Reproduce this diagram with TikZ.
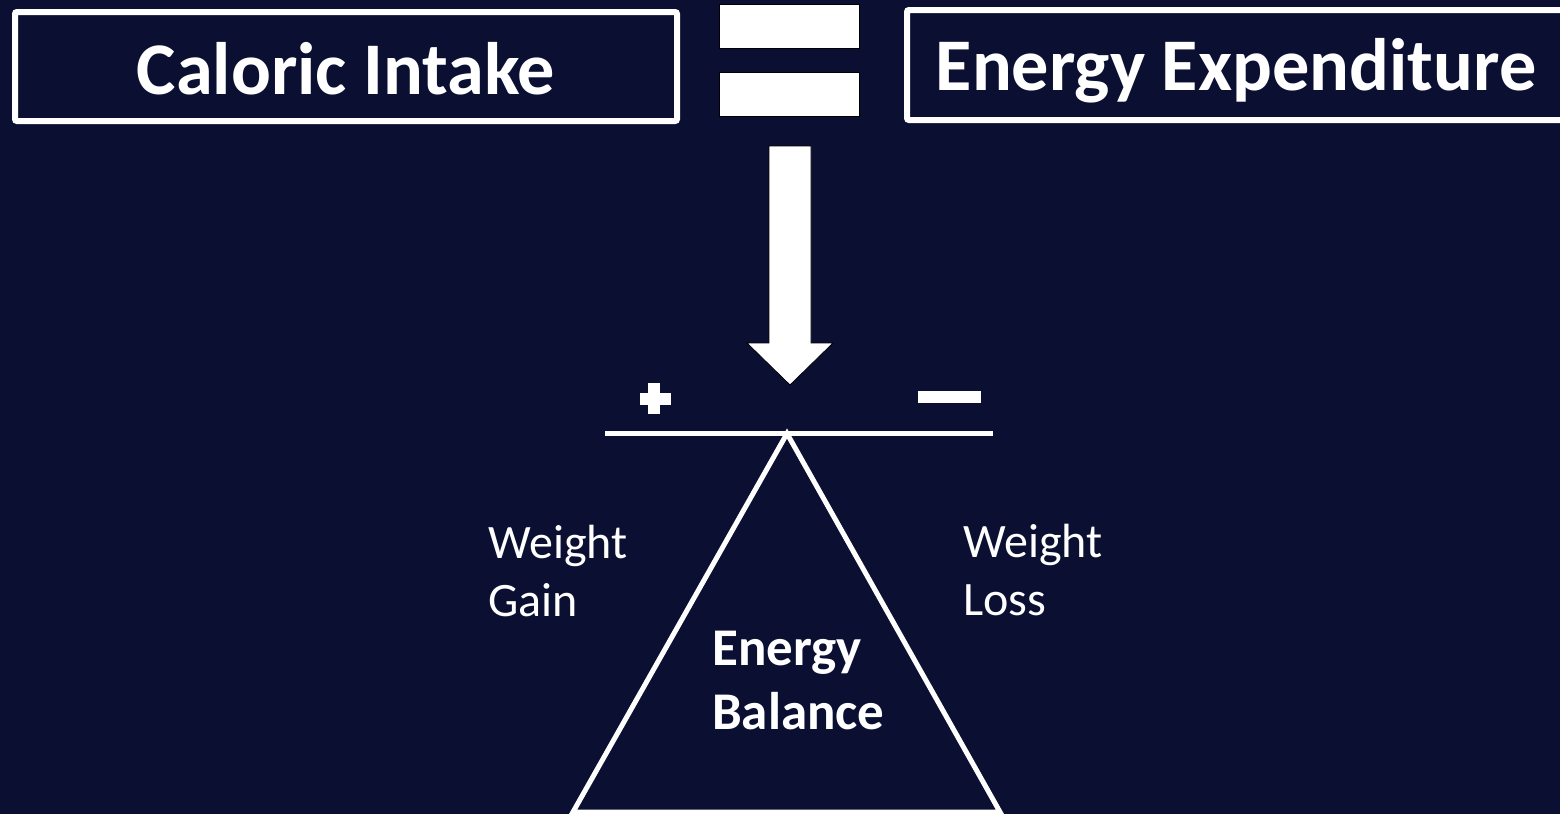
\documentclass[tikz,border=0pt]{standalone}
\usepackage{fontspec}
\setmainfont{Carlito}
\definecolor{bg}{RGB}{11,16,51}
\begin{document}
\begin{tikzpicture}[x=1pt,y=-1pt,
  titlebox/.style={draw=white,line width=6pt,rounded corners=2pt,inner sep=0pt,text=white,font=\bfseries\fontsize{74.3}{80}\selectfont},
  wbar/.style={fill=white,draw=black,line width=0.8pt},
  lbl/.style={text=white,inner sep=0pt,anchor=base west,align=left},
  wline/.style={draw=white,line width=5pt}]
\fill[bg] (0,0) rectangle (1560,814);
\useasboundingbox (0,0) rectangle (1560,814);
\node[titlebox,minimum width=662pt,minimum height=109pt,text height=55pt,text depth=0pt] (intake) at (346,66.5) {Caloric Intake};
\node[titlebox,minimum width=658pt,minimum height=110pt,text height=50pt,text depth=0pt] (expend) at (1236,65) {Energy Expenditure};
\draw[wbar] (719,4) rectangle (859,48);
\draw[wbar] (719,72) rectangle (859,116);
\coordinate (arrtop) at (790,146);
\coordinate (tip) at (790,385);
\draw[wbar] (769,146) -- (811,146) -- (811,343) -- (833,343) -- (tip) -- (747,343) -- (769,343) -- cycle;
\fill[white] (648,383) rectangle (660,414);
\fill[white] (640,393) rectangle (671,405);
\fill[white] (918,391) rectangle (981,403);
\coordinate (bl) at (605,433.5);
\coordinate (br) at (993,433.5);
\draw[wline] (bl) -- (br);
\coordinate (apex) at (787,433.5);
\coordinate (tl) at (573,812);
\coordinate (tr) at (1000,812);
\draw[wline,line join=miter] (apex) -- (tl) -- (tr) -- cycle;
\node[lbl,font=\fontsize{48}{58}\selectfont] (gain) at (488,616) {Weight\\Gain};
\node[lbl,font=\fontsize{48}{58}\selectfont] (loss) at (963,615) {Weight\\Loss};
\node[lbl,font=\bfseries\fontsize{53}{64}\selectfont] (bal) at (712,729) {Energy\\Balance};
\end{tikzpicture}
\end{document}
